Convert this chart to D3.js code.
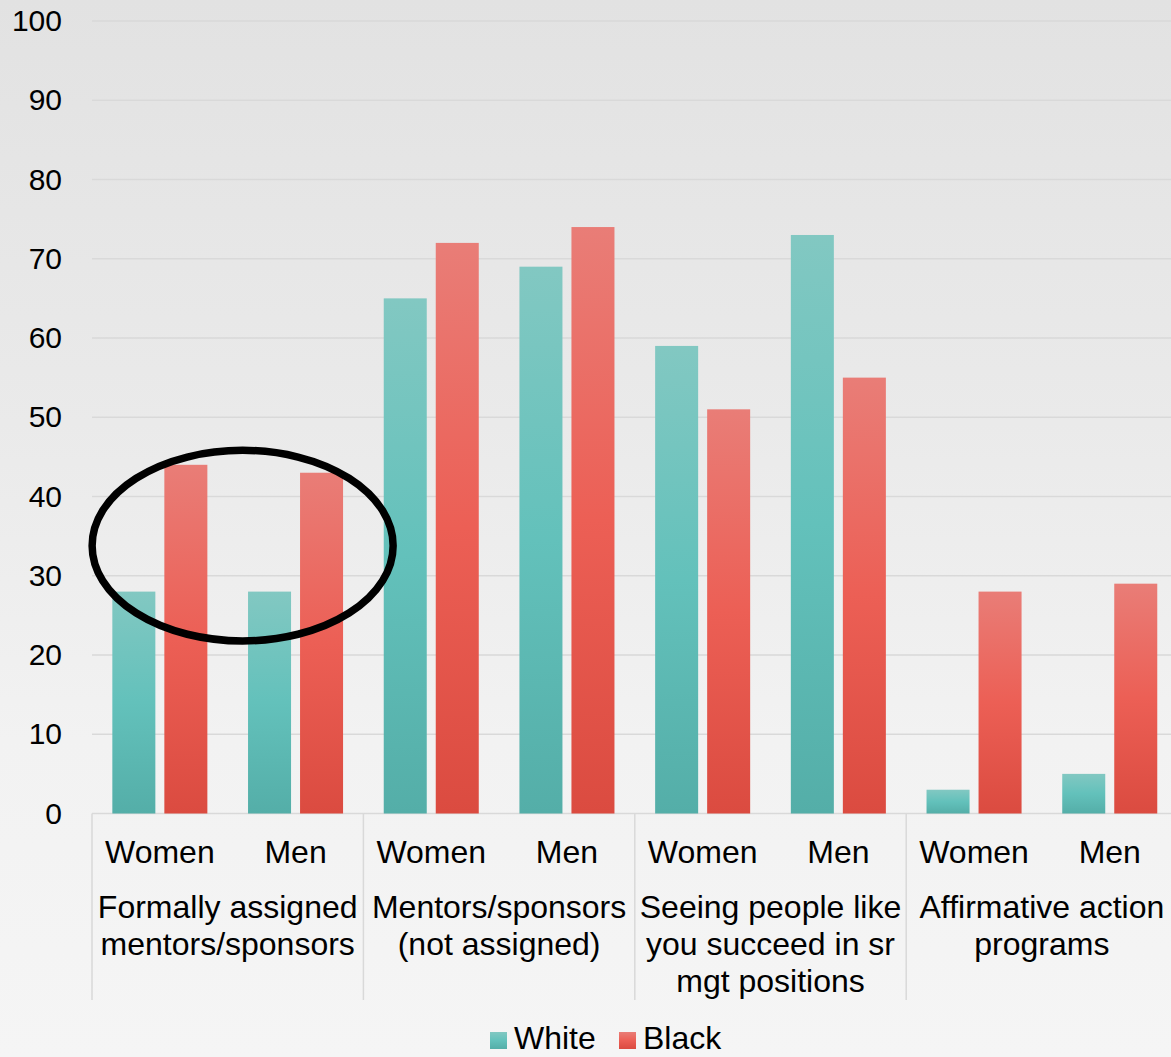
<!DOCTYPE html>
<html>
<head>
<meta charset="utf-8">
<script src="https://cdn.jsdelivr.net/npm/d3@7"></script>
<style>
  html, body { margin: 0; padding: 0; overflow: hidden; }
  svg { display: block; font-family: "Liberation Sans", Arial, sans-serif; }
</style>
</head>
<body>
<svg id="chart" width="1171" height="1057"></svg>
<script>
// Survey categories (multi-line labels) and the two gender subgroups in each
const categories = [
  ["Formally assigned", "mentors/sponsors"],
  ["Mentors/sponsors", "(not assigned)"],
  ["Seeing people like", "you succeed in sr", "mgt positions"],
  ["Affirmative action", "programs"]
];
const genders = ["Women", "Men"];
const seriesNames = ["White", "Black"];

// Percent values, ordered category by category: [Women, Men]
const whiteValues = [[28, 28], [65, 69], [59, 73], [3, 5]];
const blackValues = [[44, 43], [72, 74], [51, 55], [28, 29]];

const yTicks = [0, 10, 20, 30, 40, 50, 60, 70, 80, 90, 100];

// Highlight ring around the first category, outer extent in data units
const highlight = { category: 0, yLow: 21.3, yHigh: 46.3 };

const svg = d3.select("#chart");
const W = 1171, H = 1057;

const defs = svg.append("defs");
const bg = defs.append("linearGradient").attr("id", "bg")
  .attr("x1", 0).attr("y1", 0).attr("x2", 0).attr("y2", 1);
[[0, "#e2e2e2"], [0.4, "#eaeaea"], [0.7, "#f2f2f2"], [1, "#f5f5f5"]]
  .forEach(([o, c]) => bg.append("stop").attr("offset", o).attr("stop-color", c));

const barGrad = {
  White: [[0, "#82c8c2"], [0.5, "#63c1bb"], [1, "#54aea8"]],
  Black: [[0, "#e97d77"], [0.5, "#ec5f55"], [1, "#db4b40"]]
};
Object.entries(barGrad).forEach(([name, stops]) => {
  const g = defs.append("linearGradient").attr("id", "grad-" + name)
    .attr("x1", 0).attr("y1", 0).attr("x2", 0).attr("y2", 1);
  stops.forEach(([o, c]) => g.append("stop").attr("offset", o).attr("stop-color", c));
});

svg.append("rect").attr("width", W).attr("height", H).attr("fill", "url(#bg)");

// Scales
const plotLeft = 92, groupWidth = 271.4;
const x0 = d3.scaleBand().domain(d3.range(categories.length))
  .range([plotLeft, plotLeft + groupWidth * categories.length]).padding(0);
const x1 = d3.scaleBand().domain(genders).range([0, x0.bandwidth()]).padding(0);
const x2 = d3.scaleBand().domain(seriesNames).range([0, x1.bandwidth()])
  .paddingInner(0.173).paddingOuter(0.391);
const y = d3.scaleLinear().domain([0, 100]).range([813.5, 21]);

const gridColor = "#d9d9d9";

// Horizontal gridlines
svg.append("g").selectAll("line").data(yTicks).join("line")
  .attr("x1", plotLeft).attr("x2", W)
  .attr("y1", d => y(d)).attr("y2", d => y(d))
  .attr("stroke", gridColor).attr("stroke-width", 1.5);

// Y axis labels
const yAxis = svg.append("g").attr("transform", "translate(62,0)")
  .call(d3.axisLeft(y).tickValues(yTicks).tickSize(0).tickPadding(0));
yAxis.select(".domain").remove();
yAxis.selectAll("text")
  .attr("font-size", 30).attr("fill", "#000")
  .attr("font-family", "'Liberation Sans', Arial, sans-serif");

// Bars
const rows = [];
categories.forEach((c, ci) => genders.forEach((g, gi) => {
  rows.push({ ci, g, s: "White", v: whiteValues[ci][gi] });
  rows.push({ ci, g, s: "Black", v: blackValues[ci][gi] });
}));
svg.append("g").selectAll("rect").data(rows).join("rect")
  .attr("x", d => x0(d.ci) + x1(d.g) + x2(d.s))
  .attr("width", x2.bandwidth())
  .attr("y", d => y(d.v))
  .attr("height", d => y(0) - y(d.v))
  .attr("fill", d => `url(#grad-${d.s})`);

// Category separators
const sepBottom = 1000;
svg.append("g").selectAll("line").data(d3.range(categories.length + 1)).join("line")
  .attr("x1", d => plotLeft + d * x0.bandwidth()).attr("x2", d => plotLeft + d * x0.bandwidth())
  .attr("y1", y(0)).attr("y2", sepBottom)
  .attr("stroke", gridColor).attr("stroke-width", 1.5);

// Gender labels
const labels = svg.append("g").attr("font-size", 32).attr("fill", "#000").attr("text-anchor", "middle");
categories.forEach((c, ci) => genders.forEach(g => {
  labels.append("text")
    .attr("x", x0(ci) + x1(g) + x1.bandwidth() / 2)
    .attr("y", 862.5)
    .text(g);
}));

// Category labels
categories.forEach((lines, ci) => {
  const t = labels.append("text").attr("x", x0(ci) + x0.bandwidth() / 2).attr("y", 918);
  lines.forEach((ln, li) => t.append("tspan")
    .attr("x", x0(ci) + x0.bandwidth() / 2)
    .attr("dy", li === 0 ? 0 : 37)
    .text(ln));
});

// Highlight ellipse, shifted slightly right of the group centre
const ringWidth = 7.5;
const hcx = x0(highlight.category) + x0.bandwidth() * 0.555;
svg.append("ellipse")
  .attr("cx", hcx)
  .attr("cy", (y(highlight.yLow) + y(highlight.yHigh)) / 2)
  .attr("rx", 150.5)
  .attr("ry", (y(highlight.yLow) - y(highlight.yHigh)) / 2 - ringWidth / 2)
  .attr("fill", "none").attr("stroke", "#000").attr("stroke-width", ringWidth);

// Legend
const legend = svg.append("g").attr("font-size", 32).attr("fill", "#000");
const legendItems = [{ s: "White", x: 490 }, { s: "Black", x: 619 }];
legendItems.forEach(d => {
  legend.append("rect").attr("x", d.x).attr("y", 1032).attr("width", 17).attr("height", 17)
    .attr("fill", `url(#grad-${d.s})`);
  legend.append("text").attr("x", d.x + 24).attr("y", 1048.5).text(d.s);
});
</script>
</body>
</html>
